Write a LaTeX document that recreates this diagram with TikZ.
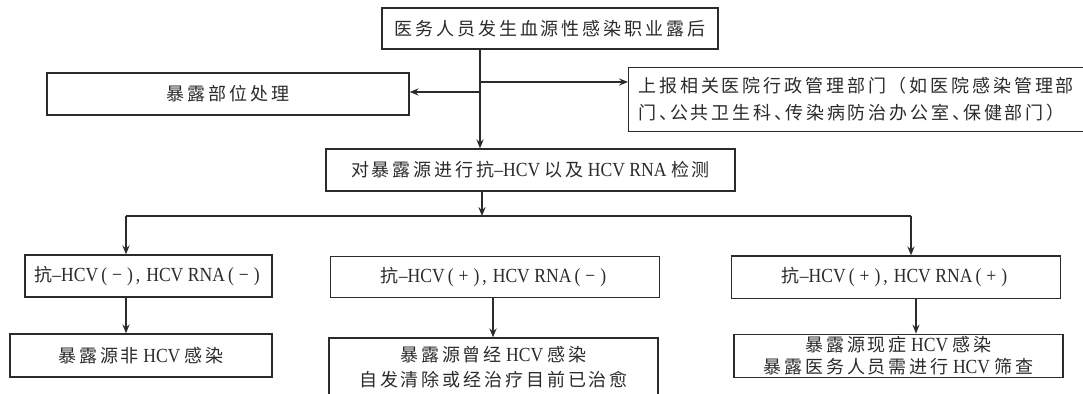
\documentclass[tikz,border=0pt]{standalone}
\usepackage{fontspec}
\setmainfont{Liberation Serif}[FakeStretch=0.88]
\newfontfamily\cjk{Noto Sans CJK SC}[LetterSpace=16]
\usetikzlibrary{arrows.meta}
\definecolor{ink}{HTML}{2B2B2B}
\newcommand\zh[1]{{\cjk\fontsize{9pt}{\baselineskip}\selectfont #1}}
\newcommand\dunhao{、\kern-0.4em}
% wide parenthesised sign, as in (+) and (-)
\newcommand\sgn[1]{\kern1.5pt(\kern2.5pt#1\kern2.5pt)\kern1.5pt}
\newcommand\cma{,\kern3pt}
\tikzset{
  box/.style={draw=ink, line width=0.65pt, inner sep=0pt, text=ink,
    font=\fontsize{10pt}{12pt}\selectfont, align=center},
  arr/.style={draw=ink, line width=0.65pt,
    -{Stealth[length=4.5pt,width=3.6pt,inset=1.6pt]}},
  link/.style={draw=ink, line width=0.65pt}
}
\begin{document}
\begin{tikzpicture}[x=0.5pt, y=-0.5pt]
  \useasboundingbox (0,0) rectangle (1083,394);
  \clip (0,0) rectangle (1083,394);
  \fill[white] (0,0) rectangle (1083,394);

  % boxes
  \node[box, minimum width=168pt, minimum height=20.5pt] (top) at (550,28.5)
    {\zh{医务人员发生血源性感染职业露后}};
  \node[box, minimum width=181pt, minimum height=21pt] (treat) at (228,94)
    {\zh{暴露部位处理}};
  \node[box, anchor=north west, minimum width=236pt, minimum height=32.2pt]
    (report) at (628,66.6) {};
  \node[anchor=west, inner sep=0pt, align=left, text=ink,
        font=\fontsize{10pt}{13.5pt}\selectfont] (reporttext) at ([xshift=5pt]report.west)
    {\zh{上报相关医院行政管理部门（如医院感染管理部}\\
     \zh{门\dunhao 公共卫生科\dunhao 传染病防治办公室\dunhao 保健部门）}};
  \node[box, minimum width=204.5pt, minimum height=21pt] (test) at (530.5,170)
    {\zh{对暴露源进行抗}–HCV \zh{以及} HCV RNA \zh{检测}};

  \node[box, minimum width=123.5pt, minimum height=21pt] (neg) at (148.5,276)
    {\zh{抗}–HCV\sgn{−}\cma HCV RNA\sgn{−}};
  \node[box, minimum width=164.5pt, minimum height=20.75pt] (past) at (495,277)
    {\zh{抗}–HCV\sgn{+}\cma HCV RNA\sgn{−}};
  \node[box, minimum width=164.75pt, minimum height=21.3pt] (pos) at (896,277.3)
    {\zh{抗}–HCV\sgn{+}\cma HCV RNA\sgn{+}};

  \node[box, minimum width=131pt, minimum height=21.5pt] (noinf) at (141,355.5)
    {\zh{暴露源非} HCV \zh{感染}};
  \node[box, minimum width=164.5pt, minimum height=29.5pt,
        font=\fontsize{10pt}{12.5pt}\selectfont] (cured) at (493.5,367.5)
    {\zh{暴露源曾经} HCV \zh{感染}\\ \zh{自发清除或经治疗目前已治愈}};
  \node[box, minimum width=164.5pt, minimum height=21.8pt,
        font=\fontsize{10pt}{11pt}\selectfont] (active) at (898.5,356)
    {\zh{暴露源现症} HCV \zh{感染}\\ \zh{暴露医务人员需进行} HCV \zh{筛查}};

  % connector anchors
  \coordinate (tr) at (480,0);
  \coordinate (lb) at (480,92);
  \coordinate (rb) at (480,82);
  \coordinate (bar) at (482,216);
  \coordinate (bl) at (126,216);
  \coordinate (br) at (911,216);
  \coordinate (d1) at (126,0);
  \coordinate (d2) at (493,0);
  \coordinate (d3) at (916,0);

  % connectors
  \draw[arr] (top.south -| tr) -- (test.north -| tr);
  \draw[arr] (lb) -- (lb -| treat.east);
  \draw[arr] (rb) -- (rb -| report.west);
  \draw[arr] (test.south -| bar) -- (bar);
  \draw[link] (bl) -- (br);
  \draw[arr] (bl) -- (bl |- neg.north);
  \draw[arr] (br) -- (br |- pos.north);
  \draw[arr] (neg.south -| d1) -- (noinf.north -| d1);
  \draw[arr] (past.south -| d2) -- (cured.north -| d2);
  \draw[arr] (pos.south -| d3) -- (active.north -| d3);
\end{tikzpicture}
\end{document}
